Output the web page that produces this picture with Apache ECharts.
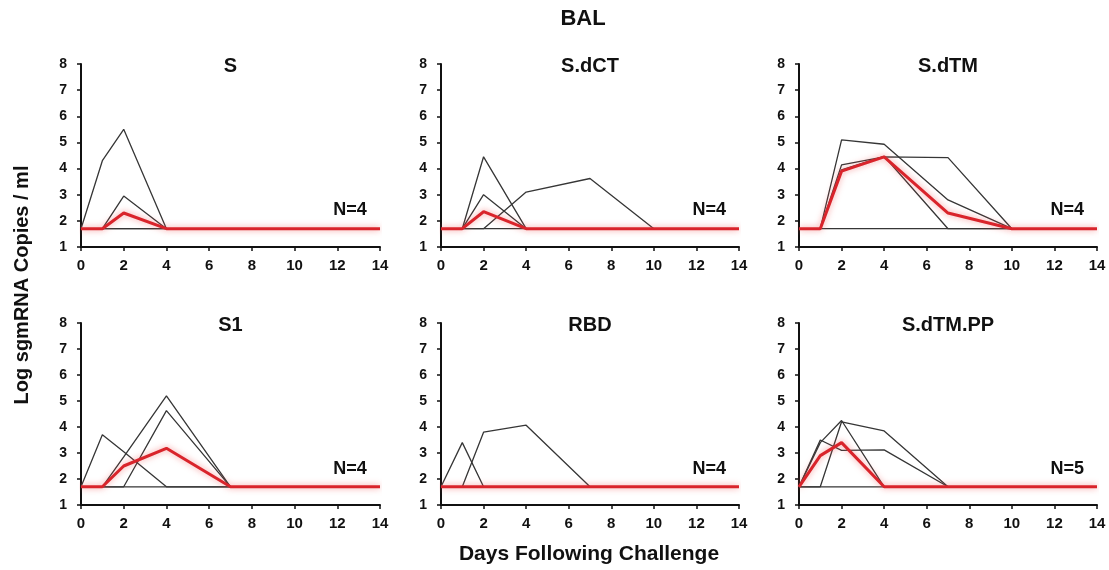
<!DOCTYPE html>
<html style="height: 100%">
<head>
    <meta charset="UTF-8">
    <script type="text/javascript" src="https://cdn.jsdelivr.net/npm/echarts@6/dist/echarts.min.js"></script>
</head>
<body style="height: 100%; margin: 0; background: #fff">
    <div id="container" style="width: 1109px; height: 570px;"></div>

    <script type="text/javascript">
        // sampling days (x values shared by every animal)
        var days = [0, 1, 2, 4, 7, 10, 14];

        var panelNames = ['S', 'S.dCT', 'S.dTM', 'S1', 'RBD', 'S.dTM.PP'];
        var panelN = ['N=4', 'N=4', 'N=4', 'N=4', 'N=4', 'N=5'];

        // log sgmRNA copies / ml, one row per animal, red = group line
        var sAnimals = [
            [1.7, 4.3, 5.5, 1.7, 1.7, 1.7, 1.7],
            [1.7, 1.7, 2.95, 1.7, 1.7, 1.7, 1.7],
            [1.7, 1.7, 1.7, 1.7, 1.7, 1.7, 1.7],
            [1.7, 1.7, 1.7, 1.7, 1.7, 1.7, 1.7]
        ];
        var sRed = [1.7, 1.7, 2.3, 1.7, 1.7, 1.7, 1.7];

        var sdctAnimals = [
            [1.7, 1.7, 4.45, 1.7, 1.7, 1.7, 1.7],
            [1.7, 1.7, 3.0, 1.7, 1.7, 1.7, 1.7],
            [1.7, 1.7, 1.7, 3.1, 3.62, 1.7, 1.7],
            [1.7, 1.7, 1.7, 1.7, 1.7, 1.7, 1.7]
        ];
        var sdctRed = [1.7, 1.7, 2.35, 1.7, 1.7, 1.7, 1.7];

        var sdtmAnimals = [
            [1.7, 1.7, 5.1, 4.93, 2.8, 1.7, 1.7],
            [1.7, 1.7, 4.14, 4.45, 4.42, 1.7, 1.7],
            [1.7, 1.7, 3.95, 4.47, 1.7, 1.7, 1.7],
            [1.7, 1.7, 1.7, 1.7, 1.7, 1.7, 1.7]
        ];
        var sdtmRed = [1.7, 1.7, 3.9, 4.45, 2.3, 1.7, 1.7];

        var s1Animals = [
            [1.7, 3.7, 3.05, 1.7, 1.7, 1.7, 1.7],
            [1.7, 1.7, 2.85, 5.2, 1.7, 1.7, 1.7],
            [1.7, 1.7, 1.7, 4.63, 1.7, 1.7, 1.7],
            [1.7, 1.7, 1.7, 1.7, 1.7, 1.7, 1.7]
        ];
        var s1Red = [1.7, 1.7, 2.5, 3.18, 1.7, 1.7, 1.7];

        var rbdAnimals = [
            [1.7, 3.4, 1.7, 1.7, 1.7, 1.7, 1.7],
            [1.7, 1.7, 3.8, 4.07, 1.7, 1.7, 1.7],
            [1.7, 1.7, 1.7, 1.7, 1.7, 1.7, 1.7],
            [1.7, 1.7, 1.7, 1.7, 1.7, 1.7, 1.7]
        ];
        var rbdRed = [1.7, 1.7, 1.7, 1.7, 1.7, 1.7, 1.7];

        var sdtmppAnimals = [
            [1.7, 3.5, 3.1, 3.12, 1.7, 1.7, 1.7],
            [1.7, 3.4, 4.25, 1.7, 1.7, 1.7, 1.7],
            [1.7, 1.7, 4.2, 3.85, 1.7, 1.7, 1.7],
            [1.7, 2.9, 3.4, 1.7, 1.7, 1.7, 1.7],
            [1.7, 1.7, 1.7, 1.7, 1.7, 1.7, 1.7]
        ];
        var sdtmppRed = [1.7, 2.9, 3.4, 1.7, 1.7, 1.7, 1.7];

        var panelAnimals = [sAnimals, sdctAnimals, sdtmAnimals, s1Animals, rbdAnimals, sdtmppAnimals];
        var panelRed = [sRed, sdctRed, sdtmRed, s1Red, rbdRed, sdtmppRed];
    </script>
    <script type="text/javascript">
        var font = "'Liberation Sans', Arial, sans-serif";
        var lefts = [81, 441, 799];
        var widths = [299, 298, 298];
        var tops = [64, 323];
        var heights = [183, 182];

        function toPoints(vals) {
            var pts = [];
            for (var k = 0; k < days.length; k++) {
                pts.push([days[k], vals[k]]);
            }
            return pts;
        }

        var grids = [], xAxes = [], yAxes = [], series = [], texts = [];
        for (var i = 0; i < 6; i++) {
            var col = i % 3, row = Math.floor(i / 3);
            grids.push({left: lefts[col], top: tops[row], width: widths[col], height: heights[row]});
            xAxes.push({
                gridIndex: i, type: 'value', min: 0, max: 14, interval: 2,
                axisLine: {lineStyle: {color: '#111', width: 2}},
                axisTick: {length: 4, lineStyle: {color: '#111', width: 1.5}},
                axisLabel: {color: '#111', fontWeight: 'bold', fontSize: 15, fontFamily: font, margin: 11},
                splitLine: {show: false}
            });
            yAxes.push({
                gridIndex: i, type: 'value', min: 1, max: 8, interval: 1,
                axisLine: {show: true, lineStyle: {color: '#111', width: 2}},
                axisTick: {show: true, length: 4, lineStyle: {color: '#111', width: 1.5}},
                axisLabel: {color: '#111', fontWeight: 'bold', fontSize: 14, fontFamily: font, margin: 14},
                splitLine: {show: false}
            });
            var animals = panelAnimals[i];
            for (var a = 0; a < animals.length; a++) {
                series.push({
                    type: 'line', xAxisIndex: i, yAxisIndex: i, data: toPoints(animals[a]),
                    symbol: 'none', silent: true, z: 2,
                    lineStyle: {color: '#363636', width: 1.3}
                });
            }
            series.push({
                type: 'line', xAxisIndex: i, yAxisIndex: i, data: toPoints(panelRed[i]),
                symbol: 'none', silent: true, z: 3,
                lineStyle: {color: '#d9242b', width: 3, shadowColor: 'rgba(240,80,80,0.6)', shadowBlur: 6}
            });

            // panel title and N label
            texts.push({
                type: 'text', x: lefts[col] + widths[col] / 2, y: tops[row] + 2,
                style: {text: panelNames[i], fill: '#111', font: 'bold 20px ' + font, textAlign: 'center', textVerticalAlign: 'middle'}
            });
            texts.push({
                type: 'text', x: lefts[col] + widths[col] * 0.9, y: tops[row] + heights[row] * 0.8,
                style: {text: panelN[i], fill: '#111', font: 'bold 18px ' + font, textAlign: 'center', textVerticalAlign: 'middle'}
            });
        }

        texts.push({
            type: 'text', x: 583, y: 19,
            style: {text: 'BAL', fill: '#111', font: 'bold 22px ' + font, textAlign: 'center', textVerticalAlign: 'middle'}
        });
        texts.push({
            type: 'text', x: 589, y: 554,
            style: {text: 'Days Following Challenge', fill: '#111', font: 'bold 21px ' + font, textAlign: 'center', textVerticalAlign: 'middle'}
        });
        texts.push({
            type: 'text', x: 22, y: 285, rotation: Math.PI / 2,
            style: {text: 'Log sgmRNA Copies / ml', fill: '#111', font: 'bold 20px ' + font, textAlign: 'center', textVerticalAlign: 'middle'}
        });

        var myChart = echarts.init(document.getElementById('container'));
        var option = {
            animation: false,
            backgroundColor: '#fff',
            grid: grids,
            xAxis: xAxes,
            yAxis: yAxes,
            series: series,
            graphic: texts
        };
        myChart.setOption(option, true);
    </script>
</body>
</html>
